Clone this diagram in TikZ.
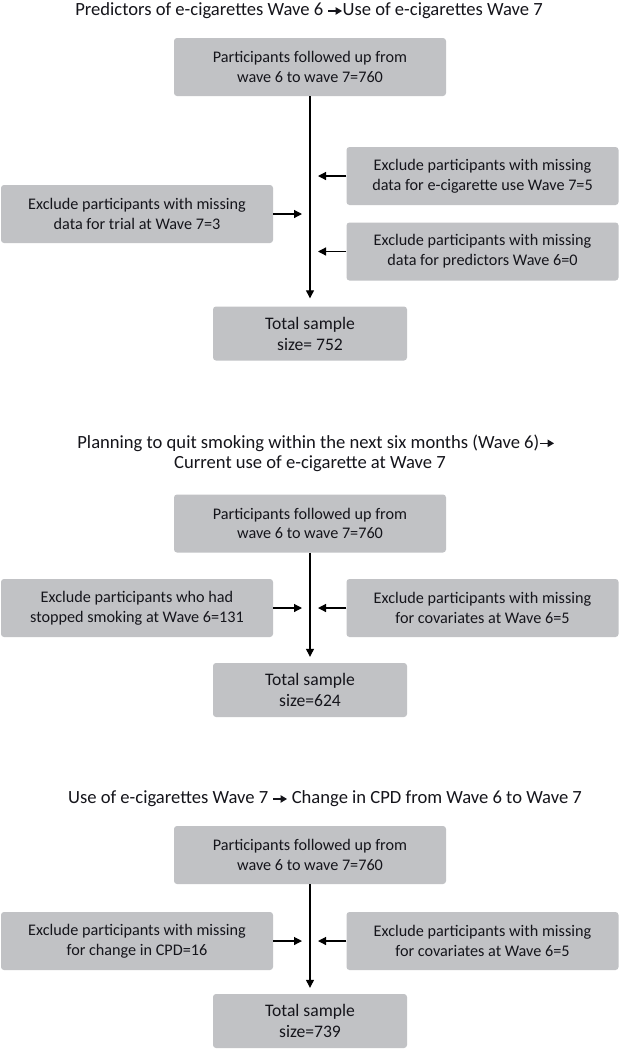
\documentclass[tikz,border=0pt]{standalone}
\usepackage{fontspec}
\setmainfont{Carlito}
\usetikzlibrary{arrows.meta}
\definecolor{boxgray}{HTML}{C1C2C5}
\definecolor{inkc}{HTML}{15151B}
\newcommand\ttarrow{\tikz[baseline=-0.55ex]\draw[inkc,line width=1.2pt,-{Triangle[length=6.5pt,width=7.5pt]}] (0pt,0pt)--(14pt,0pt);}
\begin{document}
\begin{tikzpicture}[x=1pt,y=-1pt,
  box/.style={fill=boxgray, rounded corners=3pt, align=center, inner sep=0pt,
    minimum width=272pt, minimum height=58pt, text=inkc,
    font=\fontsize{16.2}{19.8}\selectfont},
  totbox/.style={box, minimum width=194pt, minimum height=54pt,
    font=\fontsize{17.6}{21}\selectfont},
  ttl/.style={inner sep=0pt, text=inkc, font=\fontsize{18.6}{21}\selectfont},
  arr/.style={draw=black, line width=1.2pt, -{Triangle[length=8pt,width=8pt]}}]
\useasboundingbox[fill=white] (0,0) rectangle (620,1050);

% ---------- Section 1 ----------
\node[ttl] (t1) at (309,11) {Predictors of e-cigarettes Wave 6 \ttarrow Use of e-cigarettes Wave 7};
\node[box] (a1) at (310,67) {Participants followed up from\\wave 6 to wave 7=760};
\node[box] (r1a) at (482.5,176) {Exclude participants with missing\\data for e-cigarette use Wave 7=5};
\node[box] (l1) at (137,214) {Exclude participants with missing\\data for trial at Wave 7=3};
\node[box] (r1b) at (482.5,251.5) {Exclude participants with missing\\data for predictors Wave 6=0};
\node[totbox] (tot1) at (310,333.5) {Total sample\\size= 752};
\draw[arr, shorten >=8pt] (a1.south) -- (tot1.north);
\draw[arr, shorten >=8pt] (r1a.west) -- (r1a.west -| a1.south);
\draw[arr, shorten >=8pt] (l1.east) -- (l1.east -| a1.south);
\draw[arr, shorten >=8pt] (r1b.west) -- (r1b.west -| a1.south);

% ---------- Section 2 ----------
\node[ttl] (t2a) at (316,443) {Planning to quit smoking within the next six months (Wave 6)\ttarrow};
\node[ttl] (t2b) at (310,464) {Current use of e-cigarette at Wave 7};
\node[box] (a2) at (310,523.5) {Participants followed up from\\wave 6 to wave 7=760};
\node[box] (l2) at (137,608) {Exclude participants who had\\stopped smoking at Wave 6=131};
\node[box] (r2) at (482.5,608) {Exclude participants with missing\\for covariates at Wave 6=5};
\node[totbox] (tot2) at (310,690) {Total sample\\size=624};
\draw[arr, shorten >=6pt] (a2.south) -- (tot2.north);
\draw[arr, shorten >=8pt] (l2.east) -- (l2.east -| a2.south);
\draw[arr, shorten >=8pt] (r2.west) -- (r2.west -| a2.south);

% ---------- Section 3 ----------
\node[ttl] (t3) at (325,799) {Use of e-cigarettes Wave 7 \ttarrow{} Change in CPD from Wave 6 to Wave 7};
\node[box] (a3) at (310,855) {Participants followed up from\\wave 6 to wave 7=760};
\node[box] (l3) at (137,941) {Exclude participants with missing\\for change in CPD=16};
\node[box] (r3) at (482.5,941) {Exclude participants with missing\\for covariates at Wave 6=5};
\node[totbox] (tot3) at (310,1021) {Total sample\\size=739};
\draw[arr, shorten >=6pt] (a3.south) -- (tot3.north);
\draw[arr, shorten >=8pt] (l3.east) -- (l3.east -| a3.south);
\draw[arr, shorten >=8pt] (r3.west) -- (r3.west -| a3.south);
\end{tikzpicture}
\end{document}
